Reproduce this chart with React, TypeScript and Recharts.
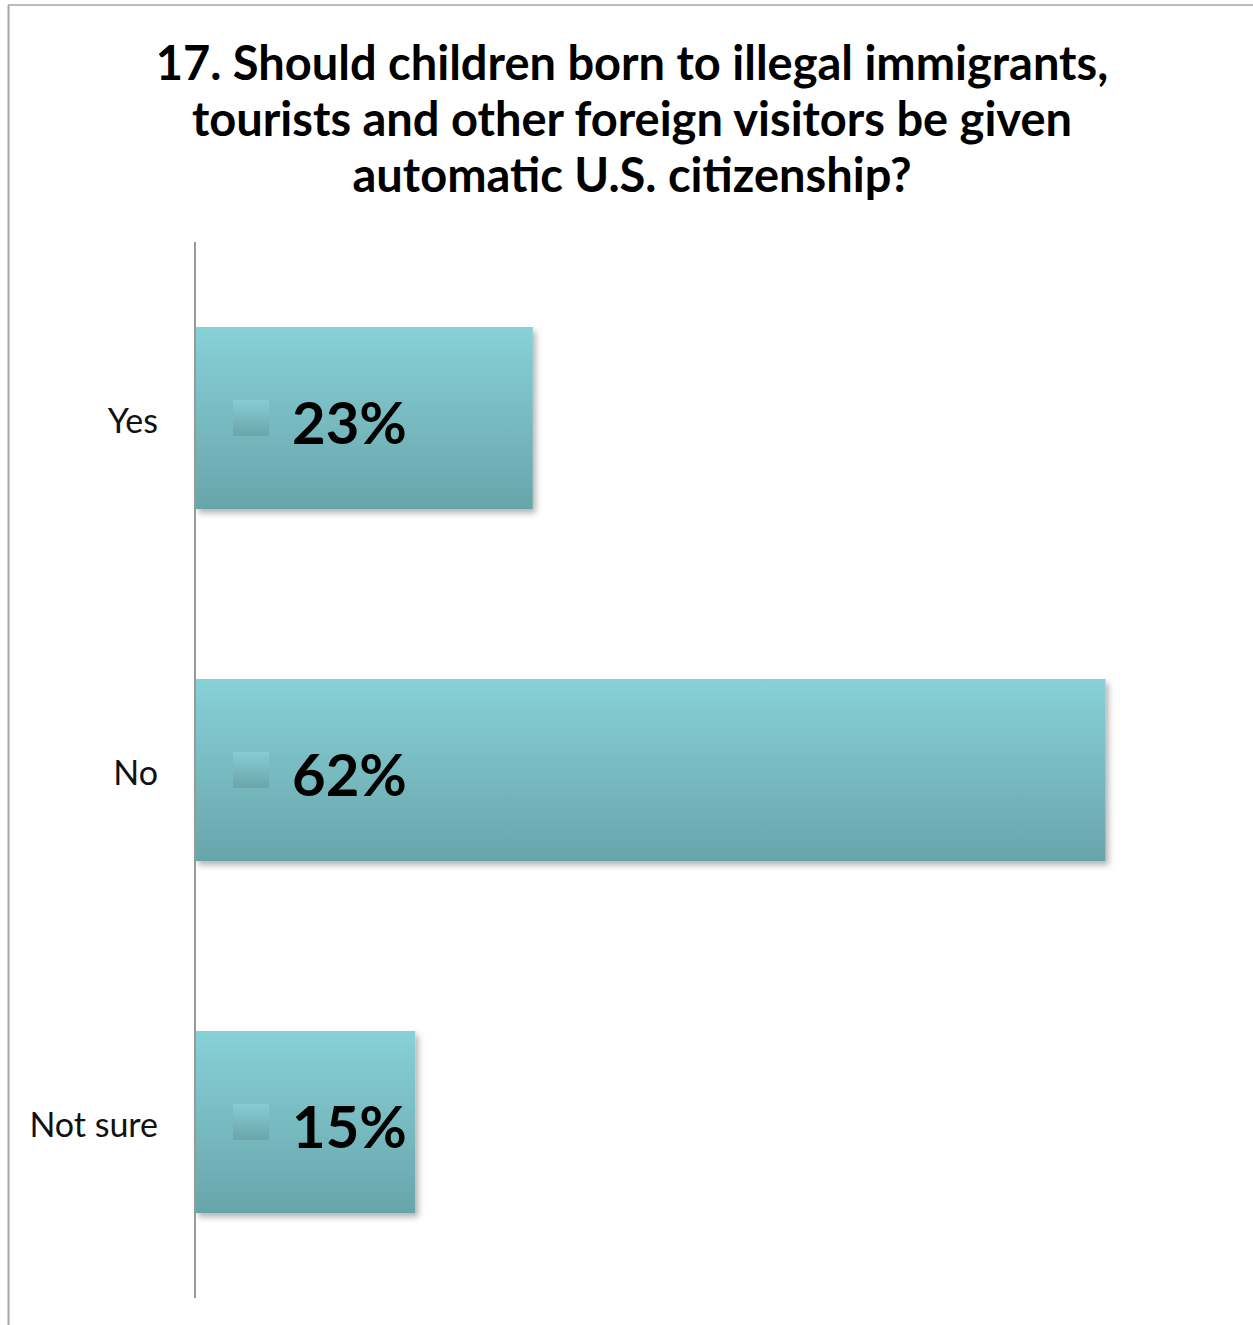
import { BarChart, Bar, XAxis, YAxis, LabelList } from "recharts";

const answers = ["Yes", "No", "Not sure"];
const shares = [23, 62, 15];
const titleLines = [
  "17. Should children born to illegal immigrants,",
  "tourists and other foreign visitors be given",
  "automatic U.S. citizenship?",
];

const data = answers.map((answer, i) => ({ answer, share: shares[i] }));

function PercentLabel(props: any) {
  const { x, y, height, value } = props;
  const cy = y + height / 2;
  return (
    <g>
      <rect x={x + 38} y={cy - 18} width={36} height={36} fill="url(#keyFill)" />
      <text
        x={x + 97}
        y={cy + 26}
        fontFamily="Lato, 'Open Sans', sans-serif"
        fontWeight={700}
        fontSize={58}
        fill="#000"
      >
        {`${value}%`}
      </text>
    </g>
  );
}

export default function App() {
  return (
    <div style={{ position: "absolute", left: 0, top: 0, width: 1253, height: 1325, background: "#fff" }}>
      <svg width={1253} height={1325} style={{ position: "absolute", left: 0, top: 0 }}>
        <line x1={8} y1={5} x2={1253} y2={5} stroke="#a6a6a6" strokeWidth={1.5} />
        <line x1={8.5} y1={5} x2={8.5} y2={1325} stroke="#a6a6a6" strokeWidth={2} />
        {titleLines.map((line, i) => (
          <text
            key={i}
            x={632}
            y={80 + i * 56}
            textAnchor="middle"
            fontFamily="Lato, 'Open Sans', sans-serif"
            fontWeight={700}
            fontSize={47}
            fill="#000"
          >
            {line}
          </text>
        ))}
      </svg>
      <div style={{ position: "absolute", left: 0, top: 0 }}>
        <BarChart
          width={1253}
          height={1325}
          data={data}
          layout="vertical"
          margin={{ top: 242, right: 30, bottom: 27, left: 0 }}
          barCategoryGap={85}
        >
          <defs>
            <linearGradient id="barFill" x1="0" y1="0" x2="0" y2="1">
              <stop offset="0%" stopColor="#87d1d7" />
              <stop offset="100%" stopColor="#68a5ab" />
            </linearGradient>
            <linearGradient id="keyFill" x1="0" y1="0" x2="0" y2="1">
              <stop offset="0%" stopColor="#86cdd3" />
              <stop offset="100%" stopColor="#6aa5aa" />
            </linearGradient>
            <filter id="barShadow" x="-10%" y="-10%" width="130%" height="130%">
              <feDropShadow dx={3} dy={4} stdDeviation={3} floodColor="#000" floodOpacity={0.3} />
            </filter>
          </defs>
          <XAxis type="number" domain={[0, 70]} hide />
          <YAxis
            type="category"
            dataKey="answer"
            width={195}
            axisLine={{ stroke: "#999", strokeWidth: 2 }}
            tickLine={false}
            tickSize={0}
            tickMargin={37}
            tick={{ fontSize: 34, fill: "#111", fontFamily: "Lato, 'Open Sans', sans-serif", dy: 3 }}
          />
          <Bar
            dataKey="share"
            fill="url(#barFill)"
            filter="url(#barShadow)"
            isAnimationActive={false}
          >
            <LabelList dataKey="share" content={PercentLabel} />
          </Bar>
        </BarChart>
      </div>
    </div>
  );
}
